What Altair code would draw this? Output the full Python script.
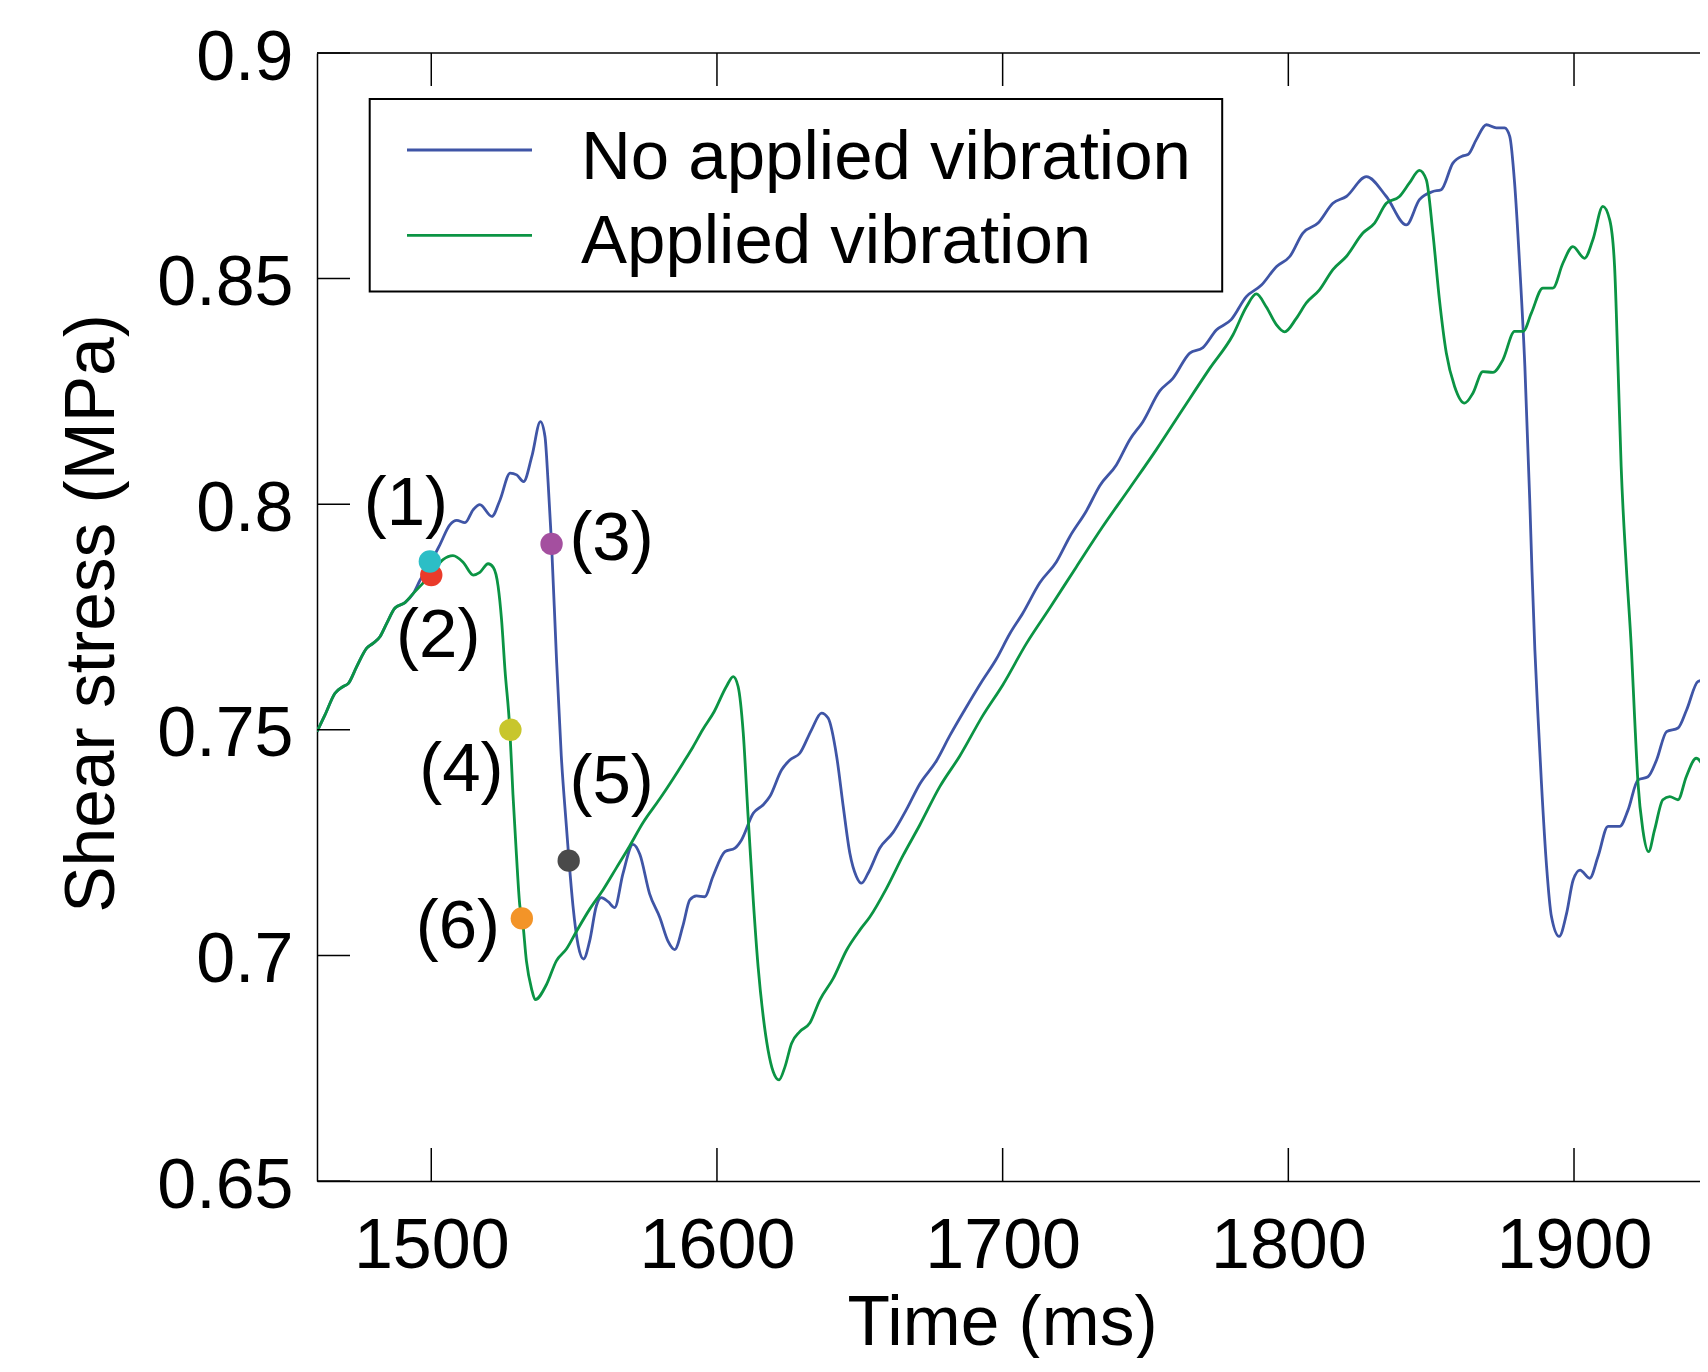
import altair as alt
import pandas as pd

FONT = "Liberation Sans"

series_names = ["No applied vibration", "Applied vibration"]
series_colors = ["#3F55A6", "#0B9444"]

blue_t = [1460.0, 1462.8, 1466.3, 1469.2, 1471.0, 1473.9, 1477.4, 1479.7, 1482.1, 1484.4,
          1487.3, 1490.8, 1493.8, 1496.1, 1499.6, 1503.0, 1506.5, 1508.9, 1511.8, 1514.7,
          1517.0, 1521.2, 1524.1, 1527.6, 1529.9, 1532.3, 1535.2, 1538.2, 1539.8, 1540.9,
          1542.1, 1543.8, 1545.5, 1547.3, 1548.2, 1549.6, 1551.4, 1553.3, 1555.4, 1557.8,
          1559.5, 1561.9, 1564.2, 1567.1, 1570.6, 1573.0, 1576.4, 1580.0, 1582.9, 1585.2,
          1588.1, 1590.5, 1592.8, 1595.7, 1598.6, 1602.8, 1606.3, 1608.6, 1612.7, 1616.2,
          1618.5, 1622.6, 1625.5, 1629.0, 1633.1, 1636.6, 1638.9, 1641.9, 1644.2, 1646.5,
          1648.8, 1650.6, 1652.9, 1657.0, 1661.6, 1666.3, 1671.0, 1676.8, 1681.5, 1686.7,
          1692.6, 1697.8, 1702.5, 1707.1, 1713.0, 1718.8, 1723.5, 1729.3, 1734.0, 1739.8,
          1744.5, 1749.1, 1755.0, 1759.6, 1765.5, 1770.1, 1774.8, 1780.0, 1785.3, 1790.5,
          1795.9, 1800.5, 1805.1, 1810.4, 1815.6, 1820.3, 1827.3, 1834.3, 1841.3, 1845.9,
          1850.6, 1853.5, 1857.6, 1861.1, 1862.9, 1865.8, 1869.3, 1872.8, 1875.7, 1877.5,
          1879.2, 1881.0, 1882.8, 1884.5, 1885.3, 1886.3, 1887.4, 1888.6, 1890.4, 1892.1,
          1894.8, 1897.4, 1899.7, 1902.1, 1905.5, 1908.4, 1911.9, 1916.0, 1918.9, 1922.4,
          1925.9, 1928.9, 1932.4, 1936.4, 1939.4, 1943.4, 1946.8]
blue_v = [0.7496, 0.7533, 0.7581, 0.7596, 0.7603, 0.7640, 0.7681, 0.7692, 0.7707, 0.7736,
          0.7770, 0.7782, 0.7803, 0.7832, 0.7869, 0.7910, 0.7954, 0.7964, 0.7959, 0.7988,
          0.7999, 0.7973, 0.8010, 0.8069, 0.8065, 0.8050, 0.8106, 0.8183, 0.8150, 0.8048,
          0.7912, 0.7662, 0.7443, 0.7286, 0.7211, 0.7110, 0.7023, 0.6992, 0.7031, 0.7110,
          0.7128, 0.7119, 0.7106, 0.7181, 0.7246, 0.7224, 0.7137, 0.7084, 0.7031, 0.7013,
          0.7066, 0.7123, 0.7132, 0.7130, 0.7175, 0.7230, 0.7238, 0.7256, 0.7315, 0.7334,
          0.7352, 0.7411, 0.7433, 0.7448, 0.7500, 0.7537, 0.7526, 0.7441, 0.7330, 0.7227,
          0.7175, 0.7160, 0.7182, 0.7238, 0.7272, 0.7323, 0.7380, 0.7431, 0.7487, 0.7544,
          0.7606, 0.7657, 0.7713, 0.7759, 0.7826, 0.7872, 0.7928, 0.7985, 0.8041, 0.8087,
          0.8143, 0.8183, 0.8251, 0.8279, 0.8335, 0.8347, 0.8386, 0.8409, 0.8460, 0.8485,
          0.8527, 0.8549, 0.8601, 0.8623, 0.8667, 0.8682, 0.8726, 0.8682, 0.8619, 0.8675,
          0.8693, 0.8697, 0.8756, 0.8772, 0.8775, 0.8808, 0.8841, 0.8834, 0.8834, 0.8815,
          0.8712, 0.8527, 0.8305, 0.8010, 0.7850, 0.7677, 0.7529, 0.7382, 0.7197, 0.7086,
          0.7042, 0.7093, 0.7167, 0.7189, 0.7171, 0.7219, 0.7286, 0.7286, 0.7322, 0.7389,
          0.7396, 0.7433, 0.7496, 0.7504, 0.7544, 0.7607, 0.7612]

green_t = [1460.0, 1462.8, 1466.3, 1469.2, 1471.0, 1473.9, 1477.4, 1479.7, 1482.1, 1484.4,
           1487.3, 1490.8, 1493.8, 1497.1, 1500.0, 1504.1, 1507.6, 1511.2, 1514.7, 1517.0,
           1519.9, 1521.7, 1523.4, 1524.6, 1525.8, 1527.5, 1528.6, 1529.8, 1531.0, 1531.9,
           1533.3, 1535.1, 1536.4, 1540.3, 1543.8, 1547.3, 1550.8, 1555.4, 1560.1, 1564.8,
           1569.4, 1574.1, 1580.0, 1584.6, 1588.1, 1591.6, 1595.0, 1599.0, 1603.3,
           1605.7, 1607.4, 1609.2, 1610.9, 1612.7, 1614.4, 1616.2, 1617.9, 1619.7, 1621.7,
           1623.8, 1626.1, 1629.0, 1632.5, 1636.0, 1640.7, 1645.4, 1650.0, 1653.5, 1659.3,
           1665.1, 1671.0, 1678.0, 1685.0, 1693.1, 1700.1, 1708.3, 1716.5, 1725.8, 1735.1,
           1744.5, 1753.8, 1763.1, 1772.5, 1780.6, 1785.3, 1788.8, 1792.3, 1795.8, 1798.7,
           1802.8, 1806.3, 1810.9, 1815.6, 1820.3, 1826.1, 1830.2, 1834.3, 1838.9, 1842.4,
           1845.9, 1848.3, 1850.6, 1852.9, 1855.3, 1858.2, 1861.7, 1864.6, 1868.1, 1871.6,
           1875.1, 1879.2, 1882.2, 1885.1, 1889.1, 1892.6, 1896.1, 1899.6, 1903.7, 1906.6,
           1910.1, 1912.5, 1914.2, 1915.4, 1916.5, 1918.3, 1920.1, 1921.2, 1922.4, 1924.1,
           1926.1, 1928.2, 1931.1, 1933.5, 1936.4, 1939.3, 1942.8, 1946.8]
green_v = [0.7496, 0.7533, 0.7581, 0.7596, 0.7603, 0.7640, 0.7681, 0.7692, 0.7707, 0.7736,
           0.7770, 0.7782, 0.7803, 0.7825, 0.7846, 0.7877, 0.7886, 0.7871, 0.7843, 0.7849,
           0.7868, 0.7860, 0.7818, 0.7744, 0.7633, 0.7500, 0.7356, 0.7224, 0.7110, 0.7080,
           0.6988, 0.6926, 0.6902, 0.6935, 0.6988, 0.7014, 0.7053, 0.7102, 0.7145, 0.7194,
           0.7242, 0.7294, 0.7347, 0.7391, 0.7426, 0.7462, 0.7500, 0.7540, 0.7596,
           0.7618, 0.7596, 0.7493, 0.7308, 0.7123, 0.6975, 0.6864, 0.6790, 0.6742, 0.6724,
           0.6753, 0.6805, 0.6831, 0.6850, 0.6901, 0.6949, 0.7012, 0.7056, 0.7085, 0.7148,
           0.7221, 0.7289, 0.7374, 0.7442, 0.7532, 0.7600, 0.7691, 0.7770, 0.7861, 0.7951,
           0.8036, 0.8121, 0.8211, 0.8301, 0.8375, 0.8437, 0.8466, 0.8437, 0.8398, 0.8382,
           0.8412, 0.8446, 0.8475, 0.8520, 0.8549, 0.8601, 0.8623, 0.8667, 0.8682, 0.8712,
           0.8740, 0.8719, 0.8601, 0.8453, 0.8335, 0.8261, 0.8224, 0.8246, 0.8294, 0.8292,
           0.8320, 0.8383, 0.8383, 0.8424, 0.8479, 0.8479, 0.8534, 0.8571, 0.8545, 0.8586,
           0.8660, 0.8630, 0.8527, 0.8305, 0.8084, 0.7862, 0.7677, 0.7529, 0.7382, 0.7278,
           0.7230, 0.7278, 0.7345, 0.7352, 0.7345, 0.7396, 0.7437, 0.7396]

x_ticks = [1500, 1600, 1700, 1800, 1900]
y_ticks = [0.65, 0.7, 0.75, 0.8, 0.85, 0.9]

ann_labels = ["(1)", "(2)", "(3)", "(4)", "(5)", "(6)"]
ann_t = [1499.5, 1500.0, 1542.1, 1527.7, 1548.1, 1531.7]
ann_v = [0.7873, 0.7843, 0.7912, 0.7500, 0.7210, 0.7082]
ann_colors = ["#2CBEC6", "#EA3B2A", "#A44F9F", "#C8C62C", "#4A4A4A", "#F39428"]
ann_dx = [-24, 7, 60, -49, 43, -64]
ann_dy = [-58, 61, -5, 40, -79, 9]

W = 1383
H = 1128

xs = alt.Scale(domain=[1460, 1944.1], nice=False, zero=False)
ys = alt.Scale(domain=[0.65, 0.9], nice=False, zero=False)
line_color = alt.Scale(domain=series_names, range=series_colors)

x_axis = alt.Axis(values=x_ticks, format="d", grid=False, ticks=False, tickSize=0,
                  domain=True, domainColor="black", domainWidth=1.5,
                  labelFont=FONT, labelFontSize=70, labelColor="black", labelPadding=31,
                  labelFlush=False,
                  title="Time (ms)", titleFont=FONT, titleFontSize=69.5, titleFontWeight="normal",
                  titleColor="black", titleX=685, titleY=163, titleBaseline="alphabetic",
                  titleAlign="center")
y_axis = alt.Axis(values=y_ticks, format="~g", grid=False, ticks=False, tickSize=0,
                  domain=True, domainColor="black", domainWidth=1.5,
                  labelFont=FONT, labelFontSize=70, labelColor="black", labelPadding=24,
                  labelOffset=5,
                  title="Shear stress (MPa)", titleFont=FONT, titleFontSize=69.5,
                  titleFontWeight="normal", titleColor="black", titleX=-204, titleY=560,
                  titleBaseline="alphabetic", titleAlign="center", titleAngle=270)

df_blue = pd.DataFrame({"t": blue_t, "v": blue_v, "s": series_names[0]})
df_green = pd.DataFrame({"t": green_t, "v": green_v, "s": series_names[1]})

LW = 2.8
blue = alt.Chart(df_blue).mark_line(strokeWidth=LW, interpolate="monotone", clip=True).encode(
    x=alt.X("t:Q", scale=xs, axis=x_axis),
    y=alt.Y("v:Q", scale=ys, axis=y_axis),
    color=alt.Color("s:N", scale=line_color, legend=None),
)
green = alt.Chart(df_green).mark_line(strokeWidth=LW, interpolate="monotone", clip=True).encode(
    x=alt.X("t:Q", scale=xs),
    y=alt.Y("v:Q", scale=ys),
    color=alt.Color("s:N", scale=line_color, legend=None),
)

# frame top line and inward ticks
one = pd.DataFrame({"k": [0]})
frame_top = alt.Chart(one).mark_rule(color="black", strokeWidth=1.5).encode(
    x=alt.value(0), x2=alt.value(W), y=alt.value(0))
df_xt = pd.DataFrame({"t": x_ticks})
df_yt = pd.DataFrame({"v": y_ticks})
tick_style = dict(color="black", strokeWidth=1.5)
bottom_ticks = alt.Chart(df_xt).mark_rule(**tick_style).encode(
    x=alt.X("t:Q", scale=xs), y=alt.value(H), y2=alt.value(H - 33))
top_ticks = alt.Chart(df_xt).mark_rule(**tick_style).encode(
    x=alt.X("t:Q", scale=xs), y=alt.value(0), y2=alt.value(33))
left_ticks = alt.Chart(df_yt).mark_rule(**tick_style).encode(
    y=alt.Y("v:Q", scale=ys), x=alt.value(0), x2=alt.value(33))

# annotation markers
order = [1, 0, 2, 3, 4, 5]
df_ann = pd.DataFrame({
    "t": [ann_t[i] for i in order],
    "v": [ann_v[i] for i in order],
    "lab": [ann_labels[i] for i in order],
})
ann_color = alt.Scale(domain=ann_labels, range=ann_colors)
markers = alt.Chart(df_ann).mark_circle(size=500, opacity=1).encode(
    x=alt.X("t:Q", scale=xs), y=alt.Y("v:Q", scale=ys),
    color=alt.Color("lab:N", scale=ann_color, legend=None),
)
ann_texts = []
for i, lab in enumerate(ann_labels):
    ann_texts.append(
        alt.Chart(df_ann).transform_filter(alt.datum.lab == lab).mark_text(
            font=FONT, fontSize=69, color="black", align="center", baseline="middle",
            dx=ann_dx[i], dy=ann_dy[i],
        ).encode(x=alt.X("t:Q", scale=xs), y=alt.Y("v:Q", scale=ys), text="lab:N")
    )

# legend
df_leg = pd.DataFrame({"s": series_names})
leg_box = alt.Chart(one).mark_rect(fill="white", stroke="black", strokeWidth=2).encode(
    x=alt.value(52.7), x2=alt.value(905.2), y=alt.value(46), y2=alt.value(238.4))
leg_layers = [leg_box]
leg_line_y = [97, 182.4]
leg_text_y = [125.5, 210]
for i, name in enumerate(series_names):
    leg_layers.append(
        alt.Chart(df_leg).transform_filter(alt.datum.s == name).mark_rule(strokeWidth=LW).encode(
            x=alt.value(90), x2=alt.value(215), y=alt.value(leg_line_y[i]),
            color=alt.Color("s:N", scale=line_color, legend=None))
    )
    leg_layers.append(
        alt.Chart(df_leg).transform_filter(alt.datum.s == name).mark_text(
            font=FONT, fontSize=69, color="black", align="left", baseline="alphabetic").encode(
            x=alt.value(264), y=alt.value(leg_text_y[i]), text="s:N")
    )

chart = alt.layer(
    blue, green, frame_top, bottom_ticks, top_ticks, left_ticks, markers, *ann_texts, *leg_layers
).resolve_scale(color="independent").properties(
    width=W, height=H,
    padding={"left": 309, "top": 45, "right": 0, "bottom": 177},
    autosize=alt.AutoSizeParams(type="none"),
    background="white",
).configure_view(stroke="transparent", strokeWidth=0)

chart.save("out.html", embed_options={"renderer": "svg", "actions": False})
